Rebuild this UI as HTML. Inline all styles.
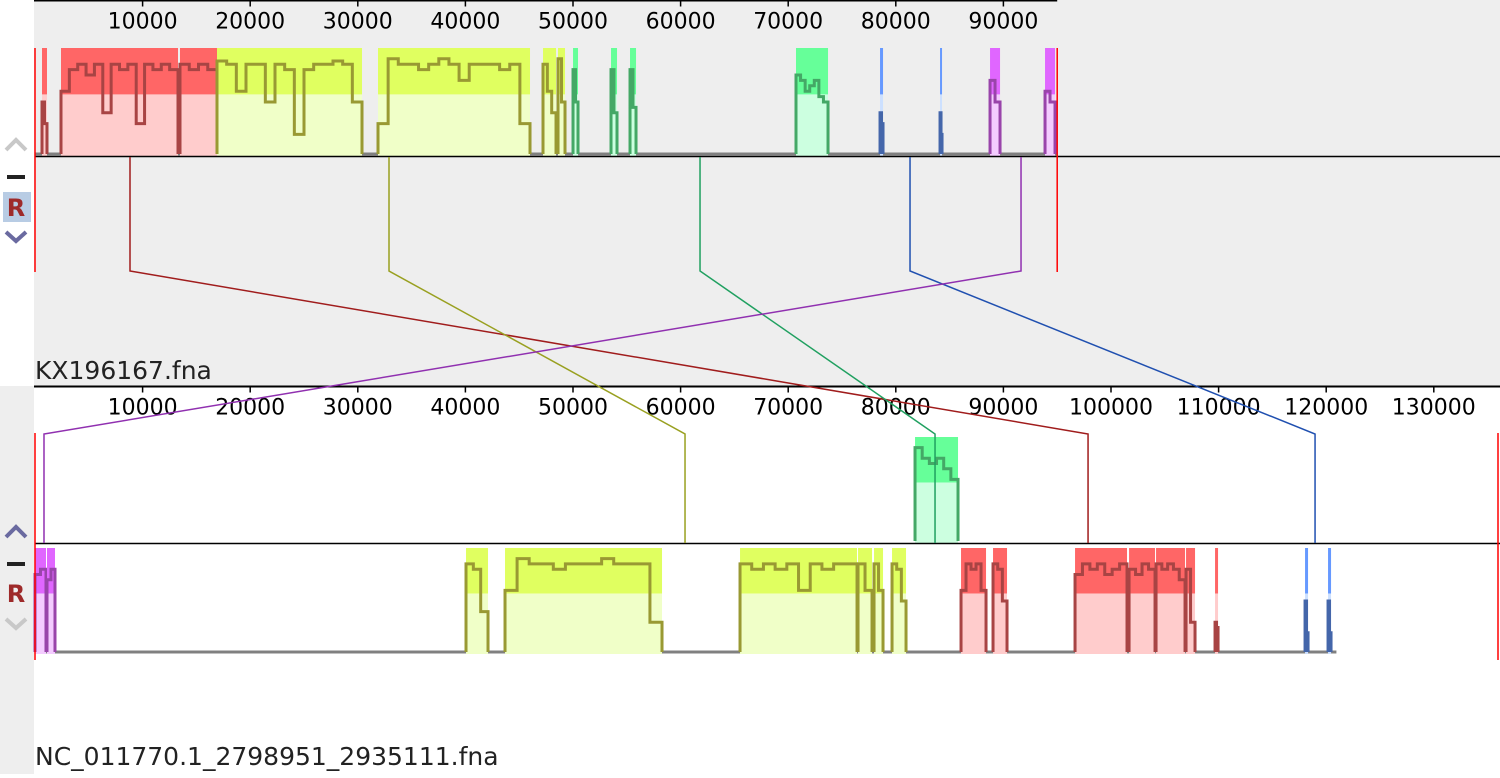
<!DOCTYPE html>
<html><head><meta charset="utf-8"><style>
html,body{margin:0;padding:0;background:#fff;}
body{width:1500px;height:774px;overflow:hidden;font-family:"DejaVu Sans","Liberation Sans",sans-serif;}
</style></head><body>
<svg id="chart" width="1500" height="774" xmlns="http://www.w3.org/2000/svg" font-family="DejaVu Sans, Liberation Sans, sans-serif">
<rect x="0" y="0" width="1500" height="774" fill="#ffffff"/>
<rect x="34" y="0" width="1466" height="386" fill="#eeeeee"/>
<rect x="0" y="386" width="34" height="388" fill="#eeeeee"/>
<g id="marks"></g>
<g id="controls">
 <polyline points="6,150 16,140 26,150" fill="none" stroke="#c8c8c8" stroke-width="4"/>
 <rect x="7" y="175" width="18" height="4" fill="#222"/>
 <rect x="3" y="192" width="28" height="30" fill="#b8cce4"/>
 <text x="16" y="216" font-size="24" font-weight="bold" fill="#9e2a2a" text-anchor="middle">R</text>
 <polyline points="6,232 16,241 26,232" fill="none" stroke="#6a6aa0" stroke-width="4"/>
 <polyline points="6,537 16,527 26,537" fill="none" stroke="#6a6aa0" stroke-width="4"/>
 <rect x="7" y="562" width="18" height="4" fill="#222"/>
 <text x="16" y="602" font-size="24" font-weight="bold" fill="#9e2a2a" text-anchor="middle">R</text>
 <polyline points="6,619 16,628 26,619" fill="none" stroke="#c8c8c8" stroke-width="4"/>
</g>
<text x="35" y="379" font-size="25" fill="#222">KX196167.fna</text>
<text x="35" y="765" font-size="25" fill="#222">NC_011770.1_2798951_2935111.fna</text>
</svg>
<script>
// ---- data ----
const topTicks = [10000,20000,30000,40000,50000,60000,70000,80000,90000];
const bottomTicks = [10000,20000,30000,40000,50000,60000,70000,80000,90000,100000,110000,120000,130000];
const topLength = 95000;
const bottomLength = 136160;
const lcbNames = ['red','olive','green','blue','purple'];
const lcbTopPos = [8829,32900,61805,81322,91638];
const lcbBottomPos = [97867,60411,83646,118964,836];
// blocks: start, end, lcb index
const topStarts = [651,2416,13476,16915,31878,47213,48608,50002,53533,55299,70725,78534,84111,88758,93869];
const topEnds   = [1115,13290,16915,30391,46005,48422,49258,50466,54091,55857,73701,78813,84297,89688,94798];
const topLcb    = [0,0,0,1,1,1,1,2,2,2,2,3,3,4,4];
const botStarts = [0,1115,40057,43682,65523,76490,77977,79650,81787,86062,89036,96658,101679,104186,106974,109669,118034,120171];
const botEnds   = [1022,1859,42102,58273,76397,77791,78813,80951,85783,88386,90337,101489,104093,106881,107810,109948,118313,120450];
const botLcb    = [4,4,1,1,1,1,1,1,2,0,0,0,0,0,0,0,3,3];
// similarity profile levels (0..1) per block
const topProfiles = [[0.5,0.3],[0.6,0.8,0.85,0.75,0.85,0.4,0.85,0.8,0.85,0.3,0.85,0.8,0.85,0.8],[0.85,0.8,0.85,0.8],
 [0.88,0.85,0.6,0.85,0.85,0.5,0.85,0.8,0.2,0.8,0.85,0.85,0.88,0.85,0.5],[0.3,0.9,0.85,0.85,0.8,0.85,0.9,0.85,0.7,0.85,0.85,0.85,0.8,0.85,0.3],
 [0.85,0.6,0.4],[0.9,0.5],[0.8,0.5],[0.8,0.4],[0.8,0.45],[0.75,0.7,0.6,0.65,0.7,0.55,0.5],[0.4,0.3],[0.4,0.2],[0.7,0.5],[0.6,0.5]];
const botProfiles = [[0.75,0.8],[0.7,0.8],[0.85,0.8,0.4],[0.6,0.9,0.85,0.85,0.8,0.85,0.85,0.85,0.9,0.85,0.85,0.85,0.3],[0.85,0.8,0.85,0.8,0.85,0.6,0.85,0.8,0.85,0.85],[0.85,0.6],[0.85,0.6],[0.85,0.8,0.5],
 [0.9,0.8,0.75,0.8,0.7,0.6],[0.6,0.85,0.8,0.85,0.6],[0.85,0.8,0.5],[0.75,0.85,0.8,0.85,0.75,0.8,0.85],[0.8,0.75,0.85,0.8],[0.85,0.8,0.85,0.8,0.7],[0.8,0.3],[0.3,0.25],[0.5,0.2],[0.5,0.2]];

const solid = ['#ff6666','#e0ff60','#66ff99','#6699ff','#e066ff'];
const light = ['#ffcccc','#f0ffc8','#ccffe0','#cce0ff','#f4ccff'];
const prof  = ['#a84444','#999933','#44a866','#4466aa','#9944aa'];
const link  = ['#a01c1c','#99a020','#20a060','#2050b0','#9030b0'];

const SCALE = 0.010760;
const X0 = 35;
function xs(bp){ return X0 + bp*SCALE; }
const NS = 'http://www.w3.org/2000/svg';
const g = document.getElementById('marks');
function el(tag, attrs){ const e=document.createElementNS(NS,tag); for(const k in attrs) e.setAttribute(k,attrs[k]); g.appendChild(e); return e; }

function axis(y, ticks, xEnd, prefix){
  const l = el('line',{x1:X0-1,y1:y,x2:xEnd,y2:y,stroke:'#000','stroke-width':2});
  
  
  ticks.forEach(t=>{
    const tk = el('line',{x1:xs(t),y1:y,x2:xs(t),y2:y+6,stroke:'#000','stroke-width':1.5});
    
    
    const tx = el('text',{x:xs(t),y:y+28,'font-size':22,'text-anchor':'middle',fill:'#000'});
    tx.textContent = t;
    
    
  });
}
axis(0.5, topTicks, xs(topLength), 'top');
axis(386.5, bottomTicks, 1500, 'bottom');

function drawPanel(starts, ends, lcbs, profiles, top, bottom, lineY, lenBp, prefix, upFlags){
  const gb = el('line',{x1:X0,y1:bottom-2,x2:xs(Math.min(lenBp, ends[ends.length-1]+500)),y2:bottom-2,stroke:'#808080','stroke-width':3});
  
  
  starts.forEach((s,i)=>{
    const c = lcbs[i];
    let t=top, b=bottom;
    if(upFlags && upFlags[i]){ t = 437; b = lineY; }
    const x1=xs(s), x2=xs(ends[i]), w=Math.max(1,x2-x1), h=b-t;
    const r1 = el('rect',{x:x1,y:t,width:w,height:h*0.43,fill:solid[c]});
    
    
    const r2 = el('rect',{x:x1,y:t+h*0.43,width:w,height:h*0.57,fill:light[c]});
    
    
    const p = profiles[i]; const n=p.length;
    let pts = x1+','+(b-2)+' ';
    p.forEach((v,k)=>{ const xa=x1+w*k/n, xb=x1+w*(k+1)/n, y=b-h*v; pts+=xa+','+y+' '+xb+','+y+' '; });
    pts += x2+','+(b-2);
    const pl = el('polyline',{points:pts,fill:'none',stroke:prof[c],'stroke-width':3});
    
    
  });
}
drawPanel(topStarts, topEnds, topLcb, topProfiles, 48, 156, 156, topLength, 'top', null);
const botUp = botLcb.map((c,i)=> c===2);
drawPanel(botStarts, botEnds, botLcb, botProfiles, 548, 654, 543, bottomLength, 'bottom', botUp);

let cl = el('line',{x1:X0,y1:156.5,x2:1500,y2:156.5,stroke:'#000','stroke-width':1.5});


cl = el('line',{x1:X0,y1:543.5,x2:1500,y2:543.5,stroke:'#000','stroke-width':1.5});


[[X0,48,272],[xs(topLength),48,272],[X0,433,660],[1498,433,660]].forEach(a=>{
  const r = el('line',{x1:a[0],y1:a[1],x2:a[0],y2:a[2],stroke:'#ff0000','stroke-width':1.5});
  
  
});

lcbTopPos.forEach((tp,i)=>{
  const xt=xs(tp), xb=xs(lcbBottomPos[i]);
  const pl = el('polyline',{points:`${xt},157 ${xt},271 ${xb},434 ${xb},543`,fill:'none',stroke:link[i],'stroke-width':1.5});
  
  
});
</script>
</body></html>
